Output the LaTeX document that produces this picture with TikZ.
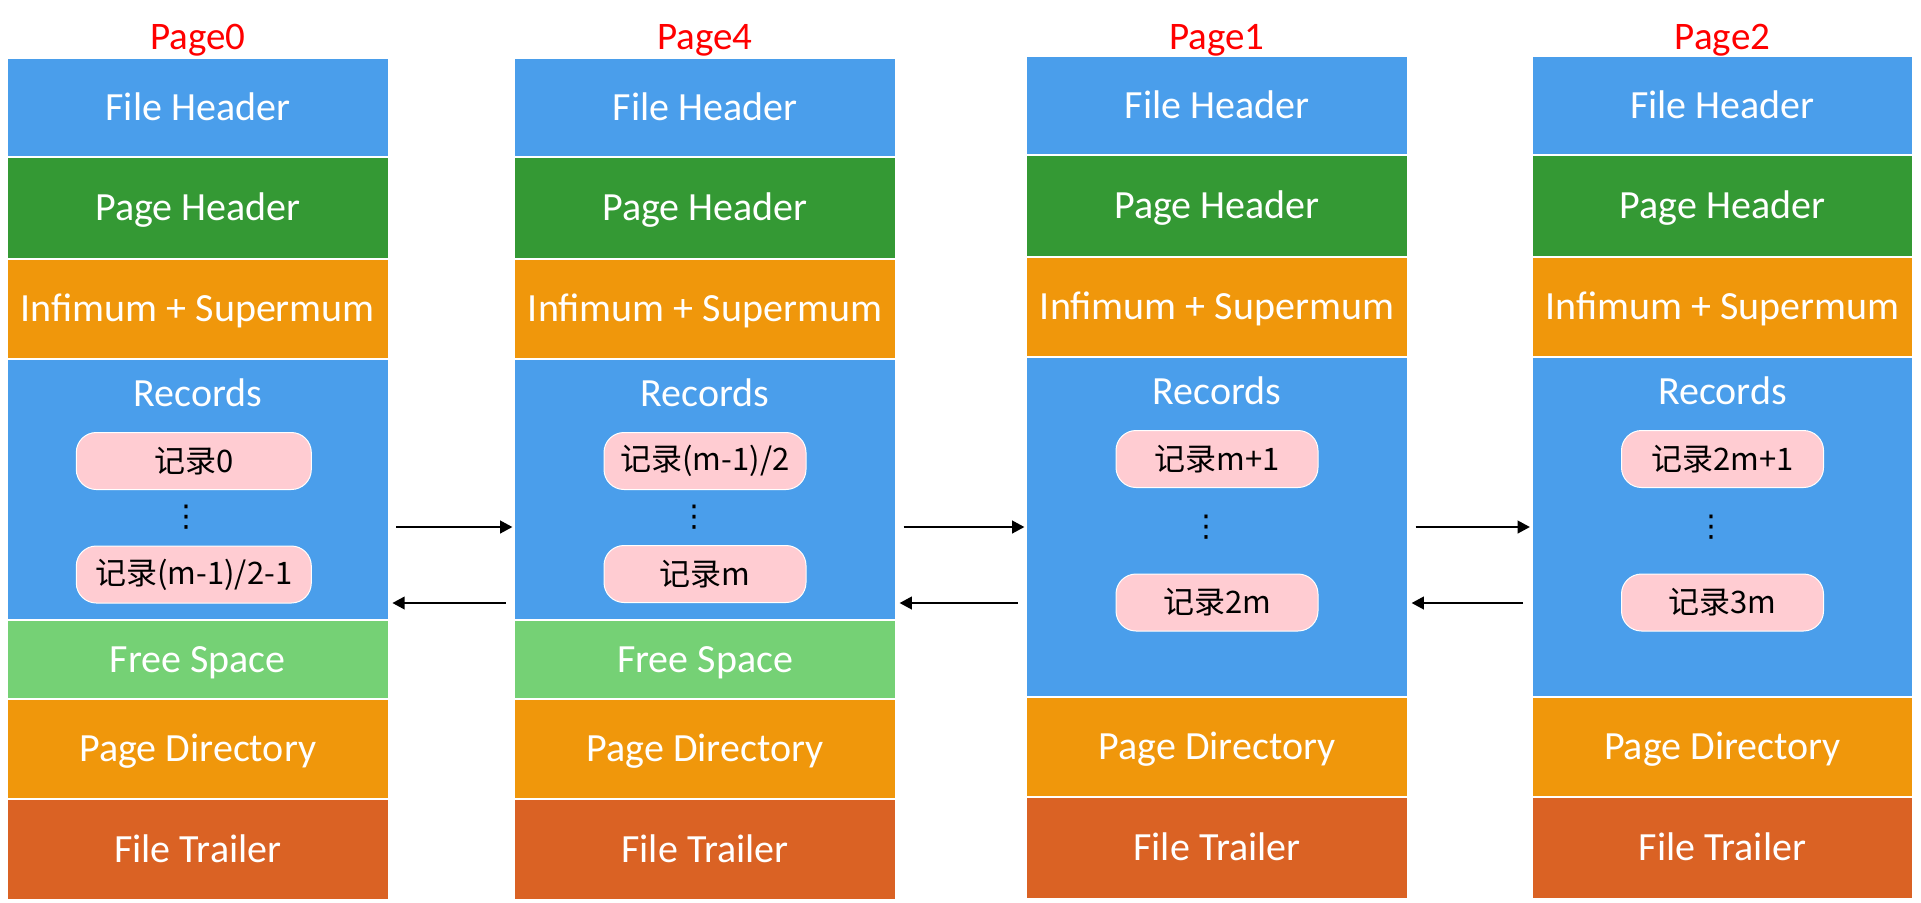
\documentclass[tikz,border=0pt]{standalone}
\usepackage{fontspec}
\setmainfont{Carlito}
\newfontfamily\cjk{Noto Sans CJK SC}
\newfontfamily\dejavu{DejaVu Sans}
\usepackage{xcolor}
\usepackage{tikz}
\usetikzlibrary{arrows.meta, positioning}

\definecolor{hdrblue}{RGB}{74,158,235}
\definecolor{hdrgreen}{RGB}{52,153,52}
\definecolor{infgold}{RGB}{240,151,11}
\definecolor{freegreen}{RGB}{117,209,117}
\definecolor{trailred}{RGB}{218,98,36}
\definecolor{recpink}{RGB}{255,204,210}

\begin{document}
\begin{tikzpicture}[x=0.5pt,y=-0.5pt,node distance=0pt]

                \tikzset{every node/.style={outer sep=0pt, inner sep=0pt},
                  part/.style={draw=white, line width=0.8pt, minimum width=190.5pt, text=white,
                    font=\fontsize{20}{24}\selectfont, text height=12.9pt, text depth=0pt},
                  pagetitle/.style={text=red, font=\fontsize{19.5}{23}\selectfont, anchor=base},
                  reclabel/.style={text=white, font=\fontsize{20}{24}\selectfont, anchor=base},
                  rec/.style={draw=white, line width=0.5pt, fill=recpink, rounded corners=10pt,
                    minimum width=101pt, minimum height=28.5pt, font=\cjk\fontsize{15.5}{18}\selectfont},
                  more/.style={font=\dejavu\fontsize{15}{17}\selectfont},
                  link/.style={->, >={Triangle[length=6.2pt,width=6.2pt]}, line width=1.4pt}}

                \useasboundingbox (0,0) rectangle (1921,902);

                % Page0
                \node[part, fill=hdrblue, minimum height=49.5pt, anchor=north west] (FH0) at (7.3,58) {File Header};
                \node[part, fill=hdrgreen, minimum height=51pt] (PH0) [below=of FH0] {Page Header};
                \node[part, fill=infgold, minimum height=50pt] (IS0) [below=of PH0] {Infimum + Supermum};
                \node[part, fill=hdrblue, minimum height=130.5pt] (REC0) [below=of IS0] {};
                \node[part, fill=freegreen, minimum height=39.5pt] (FS0) [below=of REC0] {Free Space};
                \node[part, fill=infgold, minimum height=50pt] (PD0) [below=of FS0] {Page Directory};
                \node[part, fill=trailred, minimum height=50.5pt] (FT0) [below=of PD0] {File Trailer};
                \node[pagetitle] (T0) at ([yshift=4.5pt]FH0.north) {Page0};
                \node[reclabel] (RL0) at ([yshift=-23.5pt]REC0.north) {Records};
                \node[rec, minimum width=117.5pt] (R0a) at ([xshift=-2pt, yshift=-51pt]REC0.north) {记录0};
                \node[more] (D0) at ([xshift=-5.5pt, yshift=-79pt]REC0.north) {⋮};
                \node[rec, minimum width=117.5pt] (R0b) at ([xshift=-2pt, yshift=-107.75pt]REC0.north) {记录(m-1)/2-1};

                % Page4
                \node[part, fill=hdrblue, minimum height=49.5pt, anchor=north west] (FH4) at (514.5,58) {File Header};
                \node[part, fill=hdrgreen, minimum height=51pt] (PH4) [below=of FH4] {Page Header};
                \node[part, fill=infgold, minimum height=50pt] (IS4) [below=of PH4] {Infimum + Supermum};
                \node[part, fill=hdrblue, minimum height=130.5pt] (REC4) [below=of IS4] {};
                \node[part, fill=freegreen, minimum height=39.5pt] (FS4) [below=of REC4] {Free Space};
                \node[part, fill=infgold, minimum height=50pt] (PD4) [below=of FS4] {Page Directory};
                \node[part, fill=trailred, minimum height=50.5pt] (FT4) [below=of PD4] {File Trailer};
                \node[pagetitle] (T4) at ([yshift=4.5pt]FH4.north) {Page4};
                \node[reclabel] (RL4) at ([yshift=-23.5pt]REC4.north) {Records};
                \node[rec] (R4a) at ([yshift=-51pt]REC4.north) {记录(m-1)/2};
                \node[more] (D4) at ([xshift=-5.5pt, yshift=-79pt]REC4.north) {⋮};
                \node[rec] (R4b) at ([yshift=-107.5pt]REC4.north) {记录m};

                % Page1
                \node[part, fill=hdrblue, minimum height=49.5pt, anchor=north west] (FH1) at (1026.5,56) {File Header};
                \node[part, fill=hdrgreen, minimum height=51pt] (PH1) [below=of FH1] {Page Header};
                \node[part, fill=infgold, minimum height=50pt] (IS1) [below=of PH1] {Infimum + Supermum};
                \node[part, fill=hdrblue, minimum height=170pt] (REC1) [below=of IS1] {};
                \node[part, fill=infgold, minimum height=50pt] (PD1) [below=of REC1] {Page Directory};
                \node[part, fill=trailred, minimum height=51pt] (FT1) [below=of PD1] {File Trailer};
                \node[pagetitle] (T1) at ([yshift=3.5pt]FH1.north) {Page1};
                \node[reclabel] (RL1) at ([yshift=-23.5pt]REC1.north) {Records};
                \node[rec] (R1a) at ([yshift=-51pt]REC1.north) {记录m+1};
                \node[more] (D1) at ([xshift=-5.5pt, yshift=-85pt]REC1.north) {⋮};
                \node[rec] (R1b) at ([yshift=-122.75pt]REC1.north) {记录2m};

                % Page2
                \node[part, fill=hdrblue, minimum height=49.5pt, anchor=north west] (FH2) at (1532,56) {File Header};
                \node[part, fill=hdrgreen, minimum height=51pt] (PH2) [below=of FH2] {Page Header};
                \node[part, fill=infgold, minimum height=50pt] (IS2) [below=of PH2] {Infimum + Supermum};
                \node[part, fill=hdrblue, minimum height=170pt] (REC2) [below=of IS2] {};
                \node[part, fill=infgold, minimum height=50pt] (PD2) [below=of REC2] {Page Directory};
                \node[part, fill=trailred, minimum height=51pt] (FT2) [below=of PD2] {File Trailer};
                \node[pagetitle] (T2) at ([yshift=3.5pt]FH2.north) {Page2};
                \node[reclabel] (RL2) at ([yshift=-23.5pt]REC2.north) {Records};
                \node[rec] (R2a) at ([yshift=-51pt]REC2.north) {记录2m+1};
                \node[more] (D2) at ([xshift=-5.5pt, yshift=-85pt]REC2.north) {⋮};
                \node[rec] (R2b) at ([yshift=-122.75pt]REC2.north) {记录3m};

                % links between pages
                \path ([yshift=-18.75pt]REC0.east) edge[link, shorten <=4pt, shorten >=1pt] ([yshift=-18.75pt]REC4.west);
                \path ([yshift=-56.75pt]REC4.west) edge[link, shorten <=4.5pt, shorten >=2pt] ([yshift=-56.75pt]REC0.east);
                \path ([yshift=-18.75pt]REC4.east) edge[link, shorten <=4pt, shorten >=1pt] (REC1.west);
                \path ([yshift=-38pt]REC1.west) edge[link, shorten <=4.5pt, shorten >=2pt] ([yshift=-56.75pt]REC4.east);
                \path (REC1.east) edge[link, shorten <=4pt, shorten >=1pt] (REC2.west);
                \path ([yshift=-38pt]REC2.west) edge[link, shorten <=4.5pt, shorten >=2pt] ([yshift=-38pt]REC1.east);
            \end{tikzpicture}
\end{document}
